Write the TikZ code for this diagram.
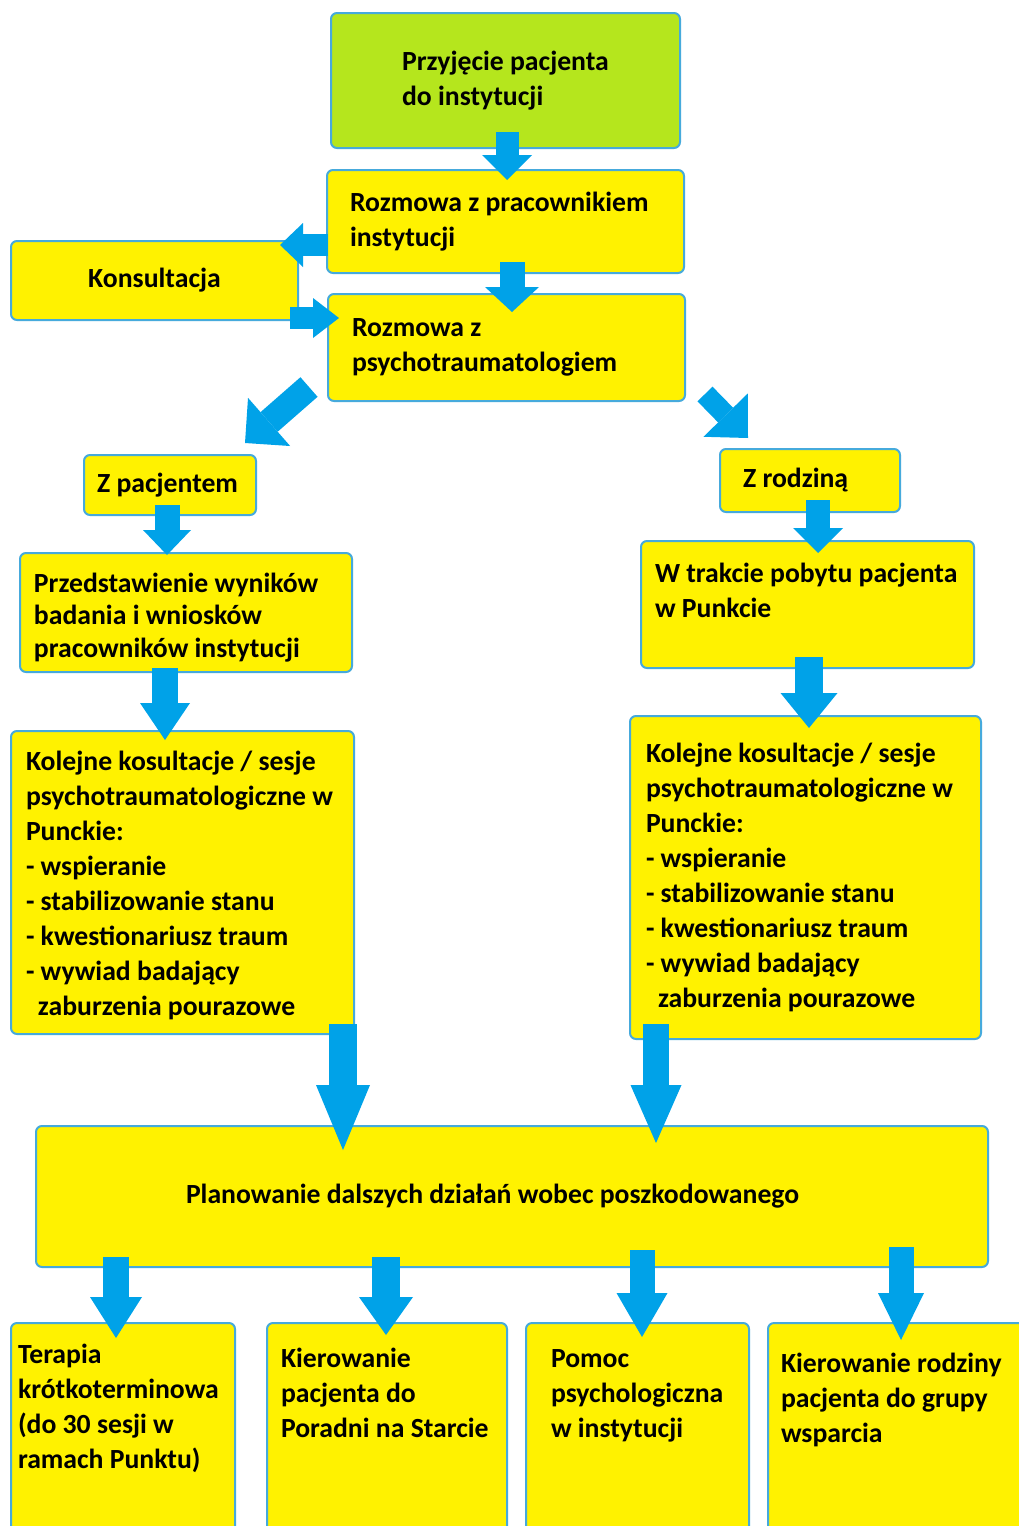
\documentclass[tikz,border=0pt]{standalone}
\usepackage{fontspec}
\setmainfont{Carlito}
\usetikzlibrary{arrows.meta,calc}

\definecolor{boxyellow}{RGB}{255,242,0}
\definecolor{boxgreen}{RGB}{181,230,29}
\definecolor{boxline}{RGB}{70,170,220}
\definecolor{arrowblue}{RGB}{0,162,232}

\newcommand{\toptext}[3]{\parbox[t][#1][t]{#2}{\strut #3}}

\begin{document}
\begin{tikzpicture}[x=1pt, y=-1pt,
	box/.style={draw=boxline, fill=boxyellow, line width=2pt, rounded corners=6pt, anchor=north west, outer sep=0pt, inner ysep=0pt, align=flush left, font=\bfseries\fontsize{27.7}{35}\selectfont},
	flow/.style n args={3}{draw=arrowblue, line width=#1, -{Triangle[width=#2, length=#3, line width=0pt]}}]
	\useasboundingbox (0,0) rectangle (1019,1526);
	\fill[white] (0,0) rectangle (1019,1526);
	\clip (0,0) rectangle (1019,1526);

	\node[box, fill=boxgreen, minimum width=349pt, minimum height=135pt] (przyj) at (331,13) {Przyjęcie pacjenta\\do instytucji};
	\node[box, text width=311pt, inner xsep=23pt, minimum height=103pt] (rozm) at (327,170) {Rozmowa z pracownikiem\\instytucji};
	\node[box, align=center, minimum width=287pt, minimum height=79pt] (kons) at (11,241) {Konsultacja};
	\node[box, text width=309pt, inner xsep=24pt, minimum height=107pt] (psych) at (328,294) {Rozmowa z\\psychotraumatologiem};
	\node[box, text width=146pt, inner xsep=13pt, minimum height=60pt] (zpac) at (84,455) {Z pacjentem};
	\node[box, text width=134pt, inner xsep=23pt, minimum height=63pt] (zrod) at (720,449) {Z rodziną};
	\node[box, font=\bfseries\fontsize{27.7}{32.5}\selectfont, inner xsep=14pt, inner ysep=16.25pt] (przed) at (20,553) {\toptext{86.5pt}{304pt}{Przedstawienie wyników\\badania i wniosków\\pracowników instytucji}};
	\node[box, inner xsep=14pt, inner ysep=16.5pt] (pobyt) at (641,541) {\toptext{94pt}{305pt}{W trakcie pobytu pacjenta\\w Punkcie}};
	\node[box, inner xsep=15pt, inner ysep=14.5pt] (kolL) at (11,731) {\toptext{274pt}{313pt}{Kolejne kosultacje / sesje\\psychotraumatologiczne w\\Punckie:\\- wspieranie\\- stabilizowanie stanu\\- kwestionariusz traum\\- wywiad badający\\\hspace*{12pt}zaburzenia pourazowe}};
	\node[box, text width=319pt, inner xsep=16pt, minimum height=323pt] (kolR) at (630,716) {Kolejne kosultacje / sesje\\psychotraumatologiczne w\\Punckie:\\- wspieranie\\- stabilizowanie stanu\\- kwestionariusz traum\\- wywiad badający\\\hspace*{12pt}zaburzenia pourazowe};
	\node[box, text width=652pt, inner xsep=150pt, minimum height=141pt] (plan) at (36,1126) {Planowanie dalszych działań wobec poszkodowanego};
	\node[box, inner xsep=7pt, inner ysep=15.5pt] (ter) at (11,1323) {\toptext{215pt}{210pt}{Terapia\\krótkoterminowa\\(do 30 sesji w\\ramach Punktu)}};
	\node[box, inner xsep=14pt, inner ysep=19.5pt] (kp) at (267,1323) {\toptext{215pt}{212pt}{Kierowanie\\pacjenta do\\Poradni na Starcie}};
	\node[box, inner xsep=25pt, inner ysep=19.5pt] (pom) at (526,1323) {\toptext{215pt}{173pt}{Pomoc\\psychologiczna\\w instytucji}};
	\node[box, inner xsep=13pt, inner ysep=24.5pt] (kr) at (768,1323) {\toptext{215pt}{236pt}{Kierowanie rodziny\\pacjenta do grupy\\wsparcia}};

	\draw[flow={23pt}{50pt}{25pt}] ($(przyj.north west)+(176,119)$) -- ($(rozm.north west)+(180,10)$);
	\draw[flow={25pt}{54pt}{25pt}] ($(rozm.north west)+(185,92)$) -- ($(psych.north west)+(184,18)$);
	\draw[flow={22pt}{44pt}{23pt}] ($(rozm.north west)+(1,75)$) -- ($(kons.north west)+(269,4)$);
	\draw[flow={22pt}{40pt}{26pt}] ($(kons.north west)+(279,77)$) -- ($(psych.north west)+(11,24)$);
	\draw[flow={26pt}{64pt}{32pt}] ($(psych.north west)+(-19,93)$) -- ($(zpac.north west)+(161,-12)$);
	\draw[flow={21pt}{62pt}{32pt}] ($(psych.north west)+(377,100)$) -- ($(zrod.north west)+(28,-11)$);
	\draw[flow={25pt}{48pt}{25pt}] ($(zpac.north west)+(83,50)$) -- ($(przed.north west)+(147,2)$);
	\draw[flow={24pt}{50pt}{25pt}] ($(zrod.north west)+(98,51)$) -- ($(pobyt.north west)+(177,12)$);
	\draw[flow={26pt}{50pt}{37pt}] ($(przed.north west)+(145,115)$) -- ($(kolL.north west)+(154,9)$);
	\draw[flow={28pt}{57pt}{35pt}] ($(pobyt.north west)+(168,116)$) -- ($(kolR.north west)+(179,12)$);
	\draw[flow={28pt}{54pt}{65pt}] ($(kolL.north west)+(332,293)$) -- ($(plan.north west)+(307,24)$);
	\draw[flow={26pt}{51pt}{58pt}] ($(kolR.north west)+(26,308)$) -- ($(plan.north west)+(620,17)$);
	\draw[flow={26pt}{52pt}{41pt}] ($(plan.north west)+(80,131)$) -- ($(ter.north west)+(105,15)$);
	\draw[flow={28pt}{54pt}{38pt}] ($(plan.north west)+(350,131)$) -- ($(kp.north west)+(119,12)$);
	\draw[flow={25pt}{51pt}{44pt}] ($(plan.north west)+(606,124)$) -- ($(pom.north west)+(116,14)$);
	\draw[flow={25pt}{46pt}{47pt}] ($(plan.north west)+(865,121)$) -- ($(kr.north west)+(133,17)$);
\end{tikzpicture}
\end{document}
